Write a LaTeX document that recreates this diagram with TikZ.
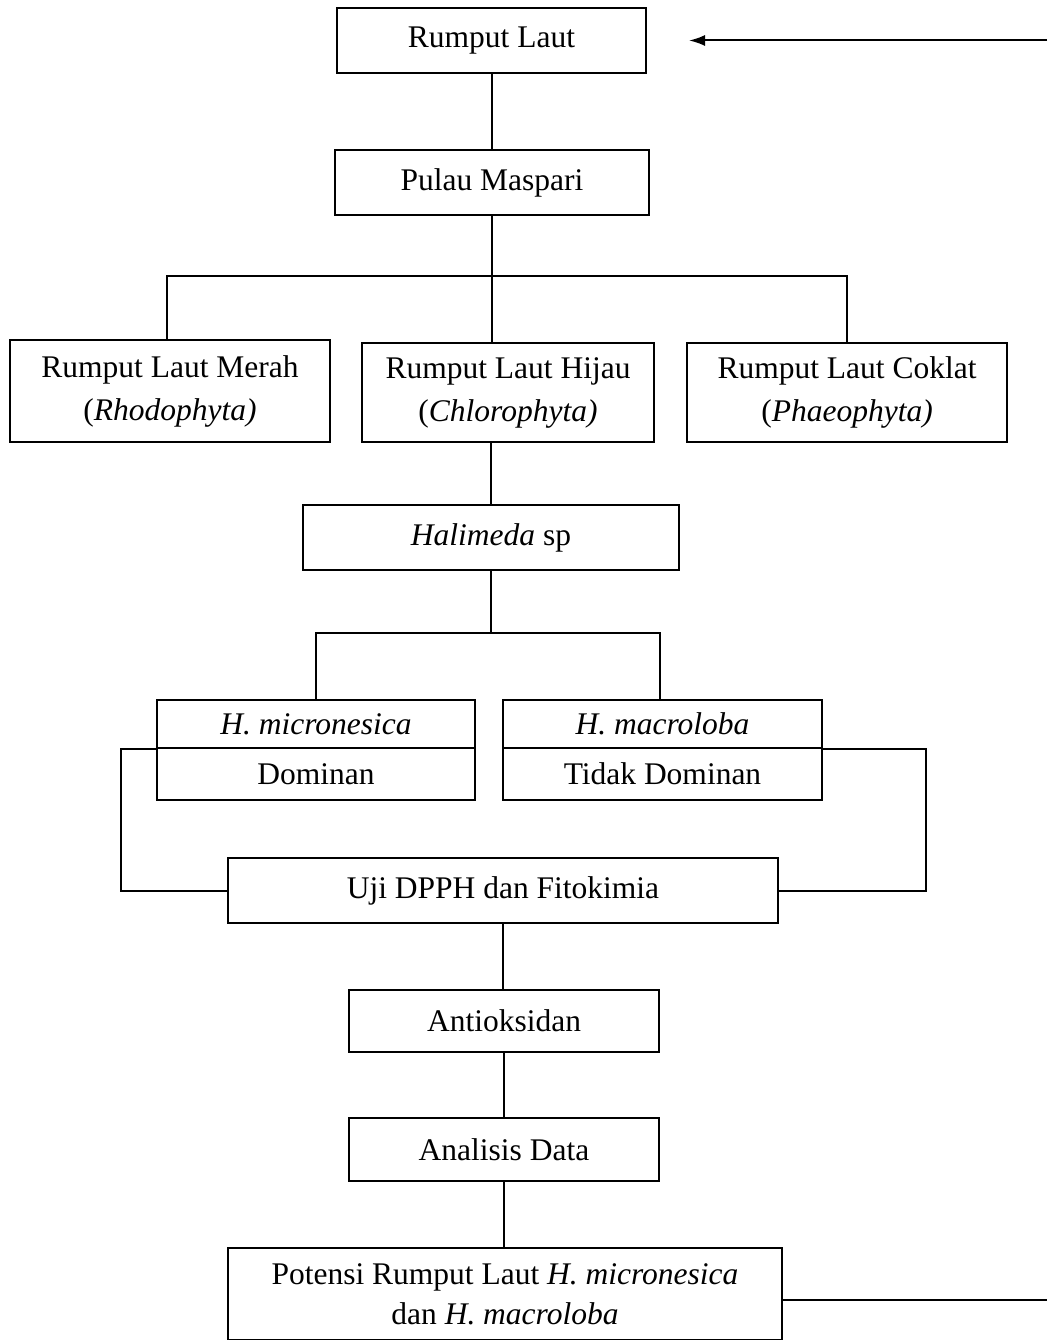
\documentclass[tikz,border=0pt]{standalone}
\usepackage{fontspec}
\setmainfont{Liberation Serif}
\usetikzlibrary{arrows.meta,calc}
\begin{document}
\begin{tikzpicture}[x=1pt,y=-1pt,line width=2pt,
  box/.style={draw,align=center,inner sep=0pt,font=\fontsize{31.5}{43}\selectfont},
  cell/.style={box,minimum width=318,minimum height=50}]
\useasboundingbox (0,0) rectangle (1047,1340);
% main chain
\node[box,minimum width=309,minimum height=65] (laut) at (491.5,40.5) {Rumput Laut};
\node[box,minimum width=314,minimum height=65] (pulau) at (492,182.5) {Pulau Maspari};
\node[box,minimum width=320,minimum height=102] (merah) at (170,391) {Rumput Laut Merah\\(\textit{Rhodophyta)}};
\node[box,minimum width=292,minimum height=99] (hijau) at (508,392.5) {Rumput Laut Hijau\\(\textit{Chlorophyta)}};
\node[box,minimum width=320,minimum height=99] (coklat) at (847,392.5) {Rumput Laut Coklat\\(\textit{Phaeophyta)}};
\node[box,minimum width=376,minimum height=65] (hali) at (491,537.5) {\textit{Halimeda} sp};
\node[cell,minimum height=48] (mic) at (316,724) {\textit{H. micronesica}};
\node[cell,minimum height=52] (micd) at (316,774) {Dominan};
\node[cell,minimum width=319,minimum height=48] (mac) at (662.5,724) {\textit{H. macroloba}};
\node[cell,minimum width=319,minimum height=52] (macd) at (662.5,774) {Tidak Dominan};
\node[box,minimum width=550,minimum height=65] (uji) at (503,890.5) {Uji DPPH dan Fitokimia};
\node[box,minimum width=310,minimum height=62] (anti) at (504,1021) {Antioksidan};
\node[box,minimum width=310,minimum height=63] (data) at (504,1149.5) {Analisis Data};
\node[box,minimum width=554,minimum height=92,font=\fontsize{31.5}{40}\selectfont] (potensi) at (505,1294) {Potensi Rumput Laut \textit{H. micronesica}\\dan \textit{H. macroloba}};
\coordinate (br1) at (490,276);
\coordinate (br2) at (491,633);
\coordinate (fbtop) at (1047,40.5);
\coordinate (fbbot) at (1047,1300);
% connectors
\draw (laut.south) -- (laut.south |- pulau.north);
\draw (pulau.south) -- (pulau.south |- hijau.north);
\draw ([xshift=-3pt]merah.north) |- (coklat.north |- br1) -- (coklat.north);
\draw (hali.north) -- (hali.north |- hijau.south);
\draw (hali.south) -- (br2);
\draw (mic.north) |- ([xshift=-3pt]mac.north |- br2) -- ([xshift=-3pt]mac.north);
\draw (mic.south west) -- ++(-35,0) |- (uji.west);
\draw (mac.south east) -- ++(103,0) |- (uji.east);
\draw (uji.south) -- (uji.south |- anti.north);
\draw (anti.south) -- (anti.south |- data.north);
\draw (data.south) -- (data.south |- potensi.north);
% feedback
\draw[-{Latex[length=16pt,width=11pt]}] (fbtop) -- ($(laut.east)+(42,0)$);
\draw (potensi.east |- fbbot) -- (fbbot);
\end{tikzpicture}
\end{document}
